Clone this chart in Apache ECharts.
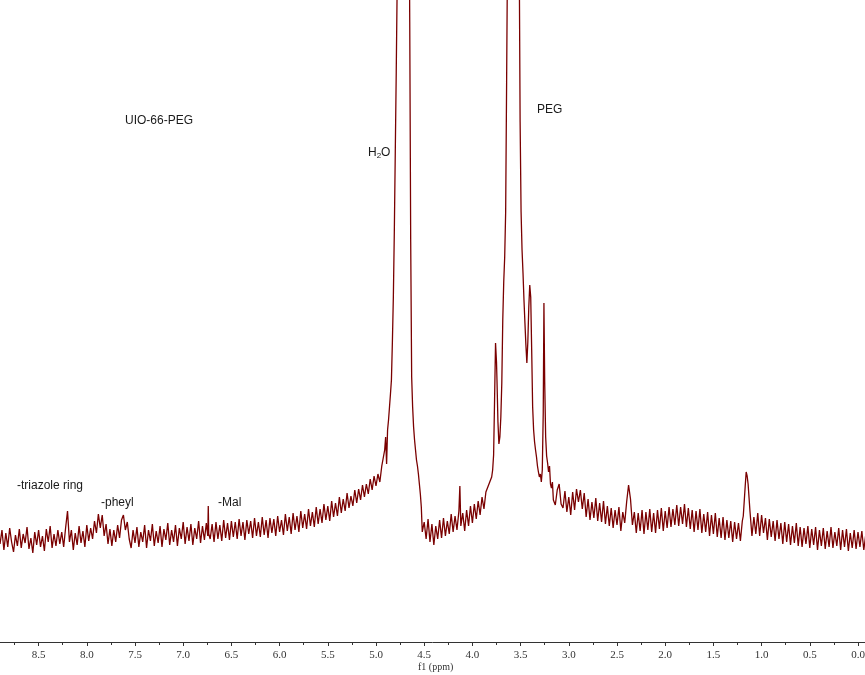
<!DOCTYPE html>
<html>
<head>
<meta charset="utf-8">
<script src="https://cdn.jsdelivr.net/npm/echarts@6/dist/echarts.min.js"></script>
<style>html,body{margin:0;padding:0;background:#fff}#c{width:865px;height:675px}</style>
</head>
<body>
<div id="c"></div>
<script>
// Spectrum: [ppm, intensity]
var baselineLeft = [
[8.90,98],[8.88,112],[8.86,92],[8.84,109],[8.82,95],[8.80,114],[8.78,100],[8.76,90],[8.74,107],[8.72,96],
[8.70,113],[8.68,94],[8.66,108],[8.64,99],[8.62,115],[8.60,93],[8.58,104],[8.56,89],[8.54,110],[8.52,97],
[8.50,112],[8.48,95],[8.46,106],[8.44,91],[8.42,113],[8.40,100],[8.38,116],[8.36,94],[8.34,108],[8.32,96],
[8.30,112],[8.28,98],[8.26,110],[8.24,95],[8.22,114],[8.20,131],[8.18,100],[8.16,112],[8.14,92],[8.12,109],
[8.10,97],[8.08,116],[8.06,99],[8.04,111],[8.02,95],[8.00,117],[7.98,101],[7.96,114],[7.94,103],[7.92,121],
[7.90,109],[7.88,128],[7.86,114],[7.84,127],[7.82,106],[7.80,118],[7.78,98],[7.76,113],[7.74,96],[7.72,112],
[7.70,100],[7.68,117],[7.66,104],[7.64,122],[7.62,127],[7.60,112],[7.58,120],[7.56,103],[7.54,94],[7.52,112],
[7.50,99],[7.48,115],[7.46,95],[7.44,110],[7.42,100],[7.40,117],[7.38,94],[7.36,112],[7.34,101],[7.32,118],
[7.30,96],[7.28,111],[7.26,99],[7.24,116],[7.22,95],[7.20,113],[7.18,102],[7.16,119],[7.14,97],[7.12,112],
[7.10,100],[7.08,117],[7.06,96],[7.04,114],[7.02,103],[7.00,120],[6.98,98],[6.96,115],[6.94,101],[6.92,118],
[6.90,97],[6.88,114],[6.86,103],[6.84,121],[6.82,99],[6.80,116],[6.78,102],[6.76,119],[6.745,106],[6.74,136],[6.735,108],
[6.72,103],[6.70,118],[6.68,100],[6.66,120],[6.64,103],[6.62,117],[6.60,101],[6.58,122],[6.56,104],[6.54,119],
[6.52,102],[6.50,121],[6.48,105],[6.46,120],[6.44,103],[6.42,123],[6.40,106],[6.38,120],[6.36,102],[6.34,122],
[6.32,108],[6.30,121],[6.28,104],[6.26,124],[6.24,106],[6.22,120],[6.20,105],[6.18,125],[6.16,107],[6.14,122],
[6.12,104],[6.10,124],[6.08,109],[6.06,123],[6.04,106],[6.02,126],[6.00,110],[5.98,122],[5.96,107],[5.94,128],
[5.92,111],[5.90,125],[5.88,108],[5.86,129],[5.84,112],[5.82,126],[5.80,110],[5.78,131],[5.76,114],[5.74,128],
[5.72,113],[5.70,133],[5.68,116],[5.66,130],[5.64,115],[5.62,135],[5.60,118],[5.58,133],[5.56,119],[5.54,138],
[5.52,122],[5.50,136],[5.48,121],[5.46,141],[5.44,125],[5.42,139],[5.40,126],[5.38,145],[5.36,129],[5.34,143],
[5.32,131],[5.30,149],[5.28,134],[5.26,146],[5.24,136],[5.22,152],[5.20,139],[5.18,153],[5.16,142],[5.14,157],
[5.12,145],[5.10,158],[5.08,148],[5.06,163],[5.04,152],[5.02,166],[5.00,156]
];
var waterPeak = [
[4.98,168],[4.96,160],[4.94,176],[4.92,178],[4.91,192],[4.90,205],[4.89,178],[4.88,212],[4.87,222],[4.86,235],
[4.85,248],[4.84,262],[4.83,300],[4.82,345],[4.81,410],[4.80,490],[4.79,570],[4.78,660],[4.76,900],[4.74,1500],
[4.72,2500],[4.715,3000],[4.70,2200],[4.68,1300],[4.66,800],[4.65,620],[4.64,400],[4.63,265],[4.62,235],[4.61,215],
[4.60,202],[4.59,192],[4.58,182],[4.57,176],[4.56,168],[4.55,158],[4.54,148],[4.53,135],[4.52,110]
];
var midRegion = [
[4.50,120],[4.48,103],[4.46,123],[4.44,100],[4.42,118],[4.40,97],[4.38,116],[4.36,103],[4.34,122],[4.32,104],
[4.30,124],[4.28,106],[4.26,121],[4.24,108],[4.22,128],[4.20,110],[4.18,126],[4.16,112],[4.14,131],[4.13,156],
[4.12,116],[4.10,129],[4.08,111],[4.06,132],[4.04,116],[4.02,136],[4.00,119],[3.98,138],[3.96,123],[3.94,141],
[3.92,127],[3.90,145],[3.88,133],[3.86,150],[3.84,148],[3.82,160],[3.80,165],[3.79,172],[3.78,187]
];
var pegPeak = [
[3.77,242],[3.76,299],[3.75,280],[3.745,262],[3.735,220],[3.725,198],[3.715,205],[3.705,225],[3.695,259],[3.685,322],
[3.675,360],[3.665,385],[3.655,430],[3.645,560],[3.635,700],[3.62,1200],[3.60,2200],[3.575,3000],[3.55,2200],[3.53,1200],
[3.515,700],[3.505,520],[3.495,430],[3.485,392],[3.475,369],[3.465,342],[3.455,319],[3.445,297],[3.435,279],[3.425,300],
[3.415,335],[3.405,357],[3.395,345],[3.385,292],[3.375,235],[3.365,212],[3.355,200],[3.345,192],[3.335,185],[3.325,176],
[3.315,170],[3.305,165],[3.295,168],[3.285,160],[3.275,172],[3.265,230],[3.258,339],[3.25,260],[3.24,205],[3.23,186],
[3.22,179],[3.21,170],[3.20,176],[3.19,158],[3.18,154],[3.17,160],[3.16,142]
];
var baselineRight = [
[3.14,137],[3.12,152],[3.10,158],[3.08,138],[3.06,134],[3.04,151],[3.02,130],[3.00,145],[2.98,127],[2.96,150],
[2.94,132],[2.92,153],[2.90,140],[2.88,152],[2.86,133],[2.84,149],[2.82,125],[2.80,143],[2.78,122],[2.76,140],
[2.74,124],[2.72,144],[2.70,121],[2.68,139],[2.66,120],[2.64,141],[2.62,118],[2.60,136],[2.58,116],[2.56,134],
[2.54,114],[2.52,132],[2.50,117],[2.48,135],[2.46,111],[2.44,130],[2.42,119],[2.40,140],[2.38,157],[2.36,143],
[2.34,117],[2.32,130],[2.30,109],[2.28,129],[2.26,111],[2.24,132],[2.22,108],[2.20,130],[2.18,112],[2.16,133],
[2.14,110],[2.12,129],[2.10,109],[2.08,132],[2.06,113],[2.04,134],[2.02,111],[2.00,131],[1.98,114],[1.96,135],
[1.94,115],[1.92,133],[1.90,117],[1.88,137],[1.86,116],[1.84,135],[1.82,118],[1.80,138],[1.78,115],[1.76,134],
[1.74,113],[1.72,132],[1.70,110],[1.68,131],[1.66,112],[1.64,133],[1.62,109],[1.60,128],[1.58,110],[1.56,130],
[1.54,106],[1.52,127],[1.50,108],[1.48,129],[1.46,105],[1.44,124],[1.42,104],[1.40,125],[1.38,102],[1.36,122],
[1.34,104],[1.32,121],[1.30,100],[1.28,120],[1.26,103],[1.24,119],[1.22,101],[1.20,121],[1.19,126],[1.17,156],
[1.16,170],[1.15,166],[1.14,158],[1.12,130],[1.10,106],[1.08,125],[1.06,108],[1.04,129],[1.02,106],[1.00,127],
[0.98,109],[0.96,124],[0.94,102],[0.92,123],[0.90,105],[0.88,121],[0.86,101],[0.84,122],[0.82,103],[0.80,119],
[0.78,98],[0.76,120],[0.74,100],[0.72,118],[0.70,97],[0.68,116],[0.66,99],[0.64,119],[0.62,96],[0.60,115],
[0.58,95],[0.56,114],[0.54,98],[0.52,116],[0.50,94],[0.48,113],[0.46,97],[0.44,115],[0.42,92],[0.40,112],
[0.38,96],[0.36,114],[0.34,93],[0.32,111],[0.30,95],[0.28,115],[0.26,94],[0.24,110],[0.22,96],[0.20,114],
[0.18,92],[0.16,112],[0.14,95],[0.12,113],[0.10,91],[0.08,109],[0.06,94],[0.04,112],[0.02,93],[0.00,110],
[-0.02,95],[-0.04,111],[-0.06,92],[-0.08,107]
];
var axisName = 'f1 (ppm)';
var annotations = ['UIO-66-PEG', 'PEG', '-triazole ring', '-pheyl', '-Mal'];

var spectrum = baselineLeft.concat(waterPeak, midRegion, pegPeak, baselineRight);

var chart = echarts.init(document.getElementById('c'), null, {renderer: 'canvas'});
var labelFont = {fontFamily: 'Liberation Sans, Arial, sans-serif', fontSize: 12, fill: '#1a1a1a'};
function txt(s, x, y) {
  return {type: 'text', x: x, y: y, style: Object.assign({text: s, verticalAlign: 'middle', align: 'left'}, labelFont)};
}
chart.setOption({
  animation: false,
  backgroundColor: '#fff',
  grid: {left: -9.6, right: -41.2, top: 0, bottom: 33, containLabel: false, outerBoundsMode: 'none'},
  xAxis: {
    type: 'value', inverse: true, min: -0.5, max: 9.0, interval: 0.5,
    axisLine: {onZero: false, lineStyle: {color: '#333', width: 1}},
    axisTick: {show: true, length: 4, lineStyle: {color: '#333'}},
    minorTick: {show: true, splitNumber: 2, length: 3, lineStyle: {color: '#333'}},
    splitLine: {show: false},
    axisLabel: {
      margin: 8, color: '#333', fontFamily: 'Liberation Serif, serif', fontSize: 11,
      formatter: function (v) { return (v < 0 || v > 8.75) ? '' : v.toFixed(1); }
    }
  },
  yAxis: {type: 'value', min: 0, max: 642, show: false, splitLine: {show: false}},
  series: [{
    type: 'line', data: spectrum, showSymbol: false, symbol: 'none', clip: true,
    lineStyle: {color: '#7a0000', width: 1.3}
  }],
  graphic: [
    txt(annotations[0], 125, 121),
    {type: 'text', x: 368, y: 153, style: {
      text: '{a|H}{b|2}{a|O}', verticalAlign: 'middle', align: 'left',
      rich: {
        a: {fontFamily: 'Liberation Sans, Arial, sans-serif', fontSize: 12, fill: '#1a1a1a', color: '#1a1a1a'},
        b: {fontFamily: 'Liberation Sans, Arial, sans-serif', fontSize: 8, fill: '#1a1a1a', color: '#1a1a1a', padding: [6, 0, 0, 0]}
      }
    }},
    txt(annotations[1], 537, 110),
    txt(annotations[2], 17, 486),
    txt(annotations[3], 101, 503),
    txt(annotations[4], 218, 503),
    {type: 'text', x: 418, y: 667, style: {text: axisName, verticalAlign: 'middle', align: 'left', fontFamily: 'Liberation Serif, serif', fontSize: 10, fill: '#333'}}
  ]
});
</script>
</body>
</html>
